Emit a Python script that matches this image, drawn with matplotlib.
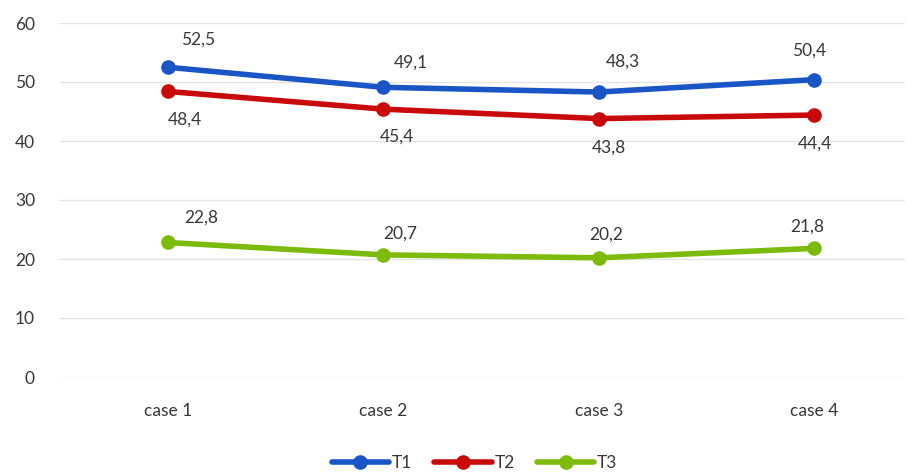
import matplotlib
matplotlib.use("Agg")
import matplotlib.pyplot as plt

plt.rcParams["font.family"] = ["Lato", "DejaVu Sans"]

cases = ["case 1", "case 2", "case 3", "case 4"]
t1 = [52.5, 49.1, 48.3, 50.4]
t2 = [48.4, 45.4, 43.8, 44.4]
t3 = [22.8, 20.7, 20.2, 21.8]

# value label offsets in pixels (dx, dy) from each point
off_t1 = [(30, 28), (28, 25), (24, 30), (-5, 29)]
off_t2 = [(17, -28), (14, -27), (10, -29), (0, -29)]
off_t3 = [(33, 25), (17, 21), (7, 23), (-7, 22)]

series = [
    ("T1", t1, "#1a55c6", off_t1),
    ("T2", t2, "#c80a0a", off_t2),
    ("T3", t3, "#7cbb0c", off_t3),
]
TEXT = "#383838"
FS = 12.5

fig = plt.figure(figsize=(9.09, 4.74), dpi=100)
ax = fig.add_axes([60 / 909, 97 / 474, 845 / 909, 354 / 474])

x = list(range(len(cases)))
for name, vals, color, offs in series:
    ax.plot(x, vals, color=color, lw=4, marker="o", ms=9.5,
            solid_capstyle="round", label=name, zorder=3)
    for xi, v, (dx, dy) in zip(x, vals, offs):
        ax.annotate(f"{v:.1f}".replace(".", ","), (xi, v),
                    xytext=(dx, dy), textcoords="offset pixels",
                    ha="center", va="center", fontsize=FS, color=TEXT)

ax.set_xlim(-0.5, 3.42)
ax.set_ylim(0, 60)
ax.set_yticks(range(0, 61, 10))
ax.set_xticks(x)
ax.set_xticklabels(cases)
ax.grid(axis="y", color="#e4e4e4", lw=1)
ax.set_axisbelow(True)
for s in ax.spines.values():
    s.set_visible(False)
ax.tick_params(length=0, labelsize=FS, colors=TEXT)
ax.tick_params(axis="y", pad=18)
ax.tick_params(axis="x", pad=19)

fig.legend(loc="center", bbox_to_anchor=(0.522, 11 / 474), ncol=3, frameon=False,
           fontsize=FS, handlelength=3.3, handletextpad=0.15, columnspacing=1.3,
           labelcolor=TEXT)

fig.savefig("out.png", dpi=100)
